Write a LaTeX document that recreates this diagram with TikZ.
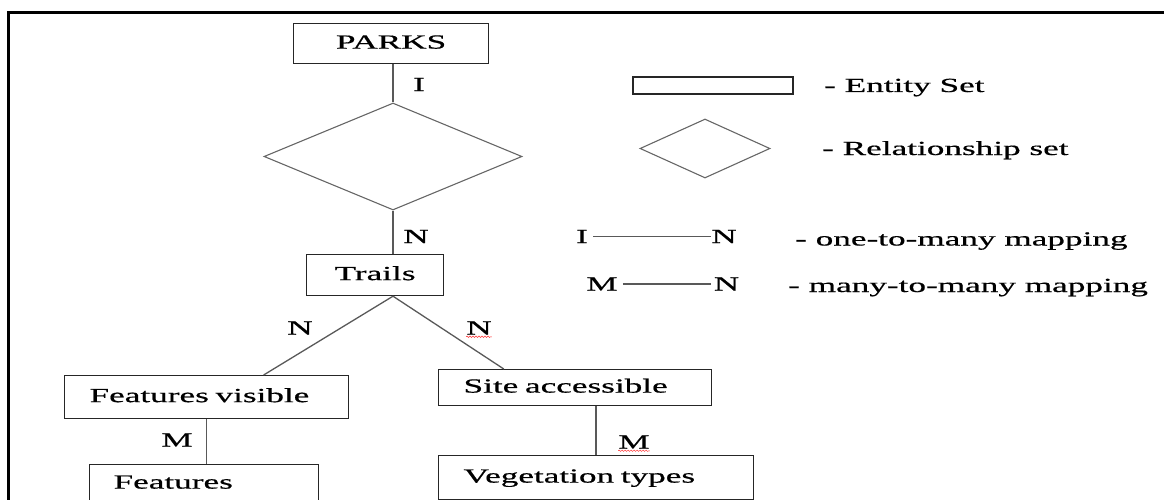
\documentclass[tikz,border=0pt]{standalone}
\usepackage{fontspec}
\setmainfont{Liberation Serif}[FakeStretch=1.76, FakeBold=0.6]
\usetikzlibrary{shapes.geometric, calc, decorations.pathmorphing}

\tikzset{
  entity/.style={draw=black!85, line width=1.2pt, rectangle, inner sep=0pt,
                 text height=14pt, text depth=4pt},
  relation/.style={draw=black!60, line width=1.1pt, diamond, inner sep=0pt},
  link/.style={draw=black!65, line width=1.3pt},
  card/.style={inner sep=0pt},
  keytext/.style={anchor=base west, inner sep=0pt},
  squiggle/.style={red!80, line width=0.5pt, decorate,
                   decoration={snake, amplitude=0.7pt, segment length=3pt}},
}

\begin{document}
\begin{tikzpicture}[x=1pt, y=-1pt, font=\fontsize{20}{24}\selectfont]
  \useasboundingbox (0,0) rectangle (1164,500);
  \clip (0,0) rectangle (1164,500);
  % frame round the whole figure
  \draw[line width=2.6pt] (1170,12.5) -- (8.5,12.5) -- (8.5,510);

  % E-R diagram
  \node[entity, anchor=north west, minimum width=195pt, minimum height=40pt] (parks) at (293,23) {PARKS};
  \node[relation, minimum width=258pt, minimum height=107pt] (rel) at (393,156.5) {};
  \node[entity, anchor=north west, minimum width=137pt, minimum height=41pt] (trails) at (306,254) {Trails};
  \node[entity, anchor=north west, minimum height=43pt, text width=234pt, inner xsep=25pt, align=left] (fvis) at (64,375) {Features visible};
  \node[entity, anchor=north west, minimum height=36pt, text width=223pt, inner xsep=25pt, align=left] (site) at (438,369) {Site accessible};
  \node[entity, anchor=north west, minimum height=52pt, text width=181pt, inner xsep=24pt, align=left, text depth=18pt] (feat) at (89,464) {Features};
  \node[entity, anchor=north west, minimum height=44pt, text width=265pt, inner xsep=25pt, align=left] (veg) at (438,455) {Vegetation types};

  \draw[link] (rel.north |- parks.south) -- (rel.north);
  \draw[link] (rel.south) -- (rel.south |- trails.north);
  \coordinate (fork) at (rel.south |- trails.south);
  \draw[link] (fork) -- ($(fvis.north west)!0.70!(fvis.north east)$);
  \draw[link] (fork) -- ($(site.north west)!0.24!(site.north east)$);
  \draw[link] (fvis.south) -- (fvis.south |- feat.north);
  \draw[link] (veg.north |- site.south) -- (veg.north);

  % cardinalities
  \node[card] (cI)  at (419,84.5) {I};
  \node[card] (cN1) at (416,236.5) {N};
  \node[card] (cN2) at (300,328) {N};
  \node[card] (cN3) at (479,328) {N};
  \node[card] (cM1) at (177,440) {M};
  \node[card] (cM2) at (634,442) {M};
  \draw[squiggle] ([yshift=-2pt]cN3.south west) -- ([yshift=-2pt]cN3.south east);
  \draw[squiggle] ([yshift=-2pt]cM2.south west) -- ([yshift=-2pt]cM2.south east);

  % key
  \node[entity, minimum width=160pt, minimum height=17pt, text height=0pt, text depth=0pt] (keyent) at (713,85.5) {};
  \node[relation, minimum width=130pt, minimum height=59pt] (keyrel) at (705,148.5) {};
  \node[keytext] (txtent) at (824,92) {- Entity Set};
  \node[keytext] (txtrel) at (822,155) {- Relationship set};

  \node[card] (keyI)  at (582,236.5) {I};
  \node[card] (keyN1) at (724,236.5) {N};
  \node[card] (keyM)  at (602,284) {M};
  \node[card] (keyN2) at (726.5,284) {N};
  \draw[link, line width=1.1pt, shorten <=5pt] (keyI.east) -- (keyN1.west);
  \draw[link, line width=1.1pt, shorten <=5pt, shorten >=3pt] (keyM.east) -- (keyN2.west);
  \node[keytext] (txtone)  at (795,245.5) {- one-to-many mapping};
  \node[keytext] (txtmany) at (788,292) {- many-to-many mapping};
\end{tikzpicture}
\end{document}
